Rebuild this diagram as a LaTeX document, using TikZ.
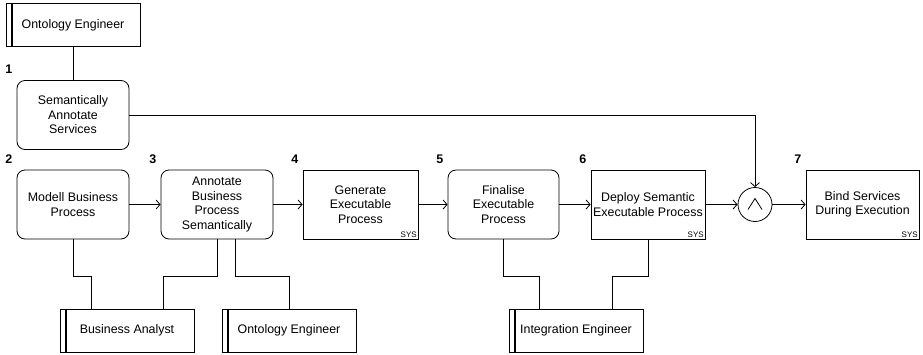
\documentclass[tikz,border=0pt]{standalone}
\usepackage{fontspec}
\setmainfont{Liberation Sans}
\usetikzlibrary{arrows.meta,positioning}
\newcommand{\taskfont}{\fontsize{12.4}{14.5}\selectfont}

\begin{document}
\begin{tikzpicture}[x=1pt,y=-1pt,%%
  lineStyle/.style={-,line width=0.8pt},%%
  arrowStyle/.style={-{Straight Barb[length=4pt,width=9pt]},line width=0.8pt},%%
  activityStyle/.style={draw,line width=0.8pt,rounded corners=8pt,minimum width=112pt,minimum height=69pt,align=center,inner sep=0pt,font=\taskfont},%%
  systemStyle/.style={activityStyle,rounded corners=0pt,minimum width=114pt},%%
  roleStyle/.style={draw,line width=0.8pt,minimum width=134pt,minimum height=43pt,font=\taskfont,%%
    path picture={\draw[line width=1.8pt] ([xshift=6pt]path picture bounding box.north west) -- ([xshift=6pt]path picture bounding box.south west);}},%%
  joinStyle/.style={draw,circle,line width=0.8pt,minimum size=34pt,inner sep=0pt,%%
    path picture={\draw[line width=0.8pt] ([shift={(-7pt,-5pt)}]path picture bounding box.center) -- ([yshift=6pt]path picture bounding box.center) -- ([shift={(7pt,-5pt)}]path picture bounding box.center);}},%%
  numberStyle/.style={inner sep=0pt,font=\fontsize{12.5}{14}\selectfont\bfseries},%%
  sysStyle/.style={inner sep=1.5pt,font=\fontsize{8}{8}\selectfont}%%
]
%%
\useasboundingbox (0,0) rectangle (923,354);
%%
\pgfmathsetmacro{\rowy}{204.5}
\pgfmathsetmacro{\roley}{330.5}
\pgfmathsetmacro{\dx}{4}
\pgfmathsetmacro{\dy}{6}
%%
%% Activities along the main row.
\node[activityStyle] (act1) at (73,115) {Semantically\\Annotate\\Services};
\node[activityStyle] (act2) at (73,\rowy) {Modell Business\\Process};
\node[activityStyle] (act3) at (217,\rowy) {Annotate\\Business\\Process\\Semantically};
\node[systemStyle,minimum width=115pt] (act4) at (360.5,\rowy) {Generate\\Executable\\Process};
\node[activityStyle,minimum width=111pt] (act5) at (503.5,\rowy) {Finalise\\Executable\\Process};
\node[systemStyle] (act6) at (648,\rowy) {Deploy Semantic\\Executable Process};
\node[joinStyle] (join) at (755,\rowy) {};
\node[systemStyle,minimum width=113pt] (act7) at (862.5,\rowy) {Bind Services\\During Execution};
%%
%% System tags.
\node[sysStyle,anchor=south east] (sys4) at (act4.south east) {SYS};
\node[sysStyle,anchor=south east] (sys6) at (act6.south east) {SYS};
\node[sysStyle,anchor=south east] (sys7) at (act7.south east) {SYS};
%%
%% Step numbers.
\foreach \n in {1,...,7}{%%
  \node[numberStyle,above left=\dy pt and \dx pt of act\n.north west] (num\n) {\n};
}
%%
%% Roles.
\node[roleStyle] (ontTop) at (73,25) {Ontology Engineer};
\node[roleStyle] (analyst) at (127,\roley) {Business Analyst};
\node[roleStyle] (ontBottom) at (289,\roley) {Ontology Engineer};
\node[roleStyle] (integrator) at (576,\roley) {Integration Engineer};
%%
%% Flow.
\draw[arrowStyle] (act2.east) -- (act3.west);
\draw[arrowStyle] (act3.east) -- (act4.west);
\draw[arrowStyle] (act4.east) -- (act5.west);
\draw[arrowStyle] (act5.east) -- (act6.west);
\draw[arrowStyle] (act6.east) -- (join.west);
\draw[arrowStyle] (join.east) -- (act7.west);
\draw[arrowStyle] (act1.east) -| (join.north);
%%
%% Role assignments.
\draw[lineStyle] (ontTop.south) -- (act1.north);
\draw[lineStyle] (act2.south) -- ++(0,37) -| ([xshift=-36pt]analyst.north);
\draw[lineStyle] (act3.south) -- ++(0,37) -| ([xshift=36pt]analyst.north);
\draw[lineStyle] ([xshift=18pt]act3.south) -- ++(0,37) -| (ontBottom.north);
\draw[lineStyle] (act5.south) -- ++(0,37) -| ([xshift=-37pt]integrator.north);
\draw[lineStyle] (act6.south) -- ++(0,37) -| ([xshift=36pt]integrator.north);
\end{tikzpicture}
\end{document}
